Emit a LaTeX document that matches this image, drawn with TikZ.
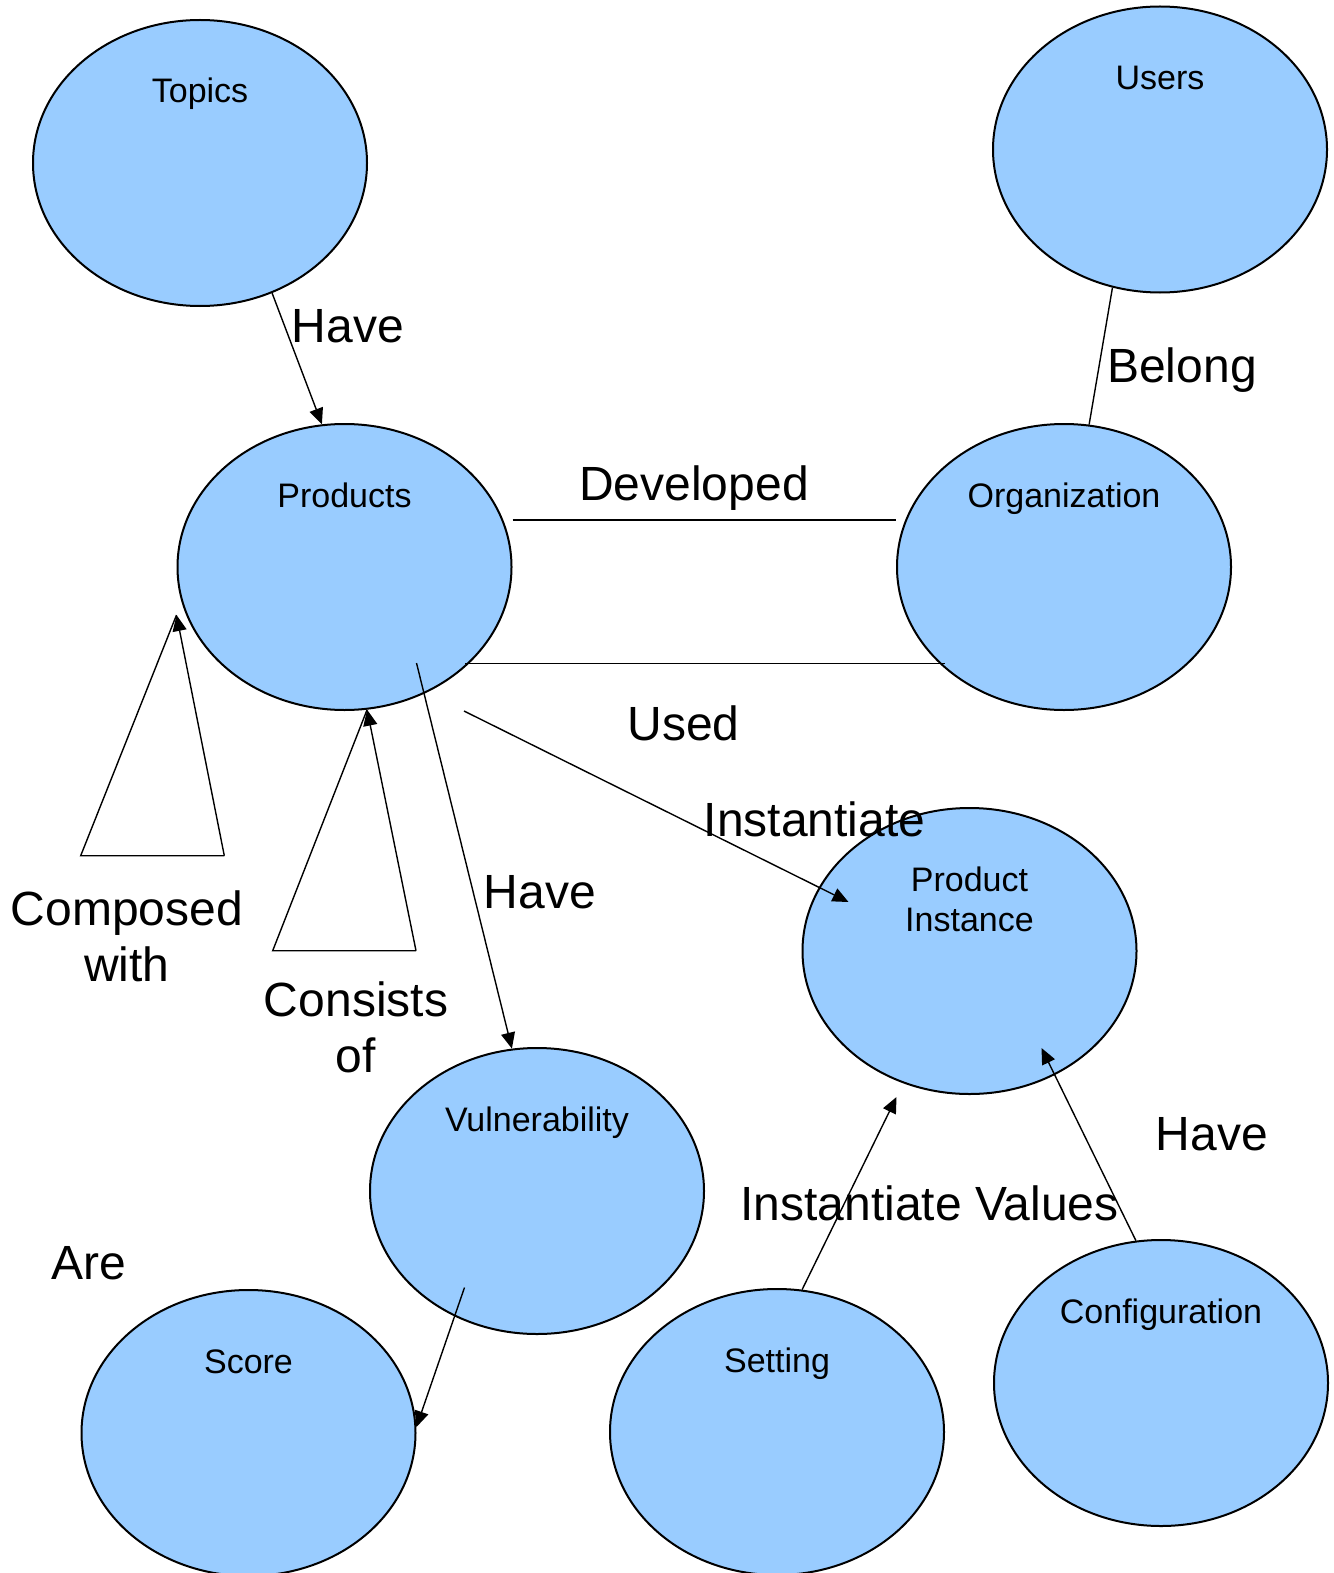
\documentclass[tikz,border=0pt]{standalone}
\usepackage{fontspec}
\setmainfont{Liberation Sans}
\usetikzlibrary{arrows.meta, shapes.geometric}

\definecolor{entityblue}{HTML}{99CCFF}

\begin{document}
\begin{tikzpicture}[
  x=0.5pt, y=-0.5pt,
  entity/.style={ellipse, draw, line width=1pt, fill=entityblue, minimum width=167pt, minimum height=143pt, inner sep=0pt},
  title/.style={anchor=base, yshift=-42pt, align=center, font=\fontsize{17}{20}\selectfont},
  rel/.style={anchor=base, align=center, inner sep=0pt, font=\fontsize{24}{28}\selectfont},
  line/.style={line width=0.7pt},
  arrow/.style={line, -{Triangle[length=8pt, width=7pt]}}
]
\useasboundingbox (0,0) rectangle (1333,1573);

% entities
\node[entity, label={[title]north:Topics}] (topics) at (200,163) {};
\node[entity, label={[title]north:Users}] (users) at (1160,149.5) {};
\node[entity, label={[title]north:Products}] (products) at (344.5,567) {};
\node[entity, label={[title]north:Organization}] (org) at (1064,567) {};
\node[entity, label={[title, yshift=-20pt]north:Product\\Instance}] (inst) at (969.5,951) {};
\node[entity, label={[title]north:Vulnerability}] (vuln) at (537,1191) {};
\node[entity, label={[title]north:Score}] (score) at (248.5,1433) {};
\node[entity, label={[title]north:Setting}] (setting) at (777,1432) {};
\node[entity, label={[title]north:Configuration}] (config) at (1161,1383) {};

% relations
\draw[arrow] (topics.-61) -- (products.99);
\draw[line] (users.-109) -- (org.80);
\draw[line] ([yshift=23.5pt]products.east) -- ([yshift=23.5pt]org.west);
\draw[line] ([shift={(120.5,96.5)}]products.center) -- ([shift={(-119,96.5)}]org.center);
\draw[arrow] ([shift={(119.5,144)}]products.center) -- ([shift={(-121,-49)}]inst.center);
\draw[arrow] ([shift={(72,96)}]products.center) -- (vuln.100);
\draw[arrow] ([shift={(-72.5,96.5)}]vuln.center) -- (score.2);
\draw[arrow] (setting.80) -- ([shift={(-73,146)}]inst.center);
\draw[arrow] (config.100) -- ([shift={(72,97)}]inst.center);

% self relations on products
\coordinate (cw-top) at ([shift={(-168,48)}]products.center);
\coordinate (cw-left) at (80.7,855.7);
\coordinate (cw-right) at (224.3,855.7);
\draw[line] (cw-right) -- (cw-left) -- (cw-top);
\draw[arrow] (cw-right) -- (cw-top);

\coordinate (co-top) at (products.-81);
\coordinate (co-left) at (272.7,950.7);
\coordinate (co-right) at (416,950.7);
\draw[line] (co-right) -- (co-left) -- (co-top);
\draw[arrow] (co-right) -- (co-top);

% labels
\node[rel] (have-topics) at (348,342.7) {Have};
\node[rel] (belong) at (1182,382.5) {Belong};
\node[rel] (developed) at (694,500) {Developed};
\node[rel] (used) at (683.5,740.7) {Used};
\node[rel] (instantiate) at (814.5,836) {Instantiate};
\node[rel] (have-vuln) at (539.7,908.3) {Have};
\node[rel] (composed) at (127,981) {Composed\\with};
\node[rel] (consists) at (356,1072.7) {Consists\\of};
\node[rel] (are) at (89.3,1279.3) {Are};
\node[rel] (values) at (929.5,1220) {Instantiate Values};
\node[rel] (have-config) at (1212,1150) {Have};
\end{tikzpicture}
\end{document}
